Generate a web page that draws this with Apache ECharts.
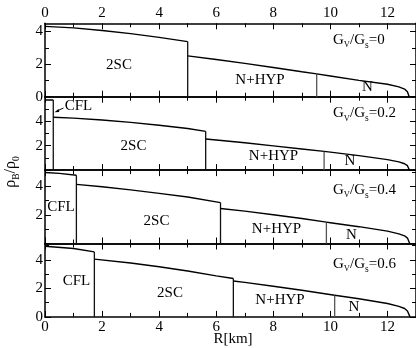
<!DOCTYPE html>
<html><head><meta charset="utf-8">
<script src="https://cdn.jsdelivr.net/npm/echarts@6/dist/echarts.min.js"></script>
<style>html,body{margin:0;padding:0;background:#fff}#c{width:416px;height:348px}</style>
</head><body><div id="c"></div>
<script>
// ---- data ----
const ratios = ['0', '0.2', '0.4', '0.6'];
const yMax = [4.5, 6, 5.15, 5.15];
const xMajorTicks = [0, 2, 4, 6, 8, 10, 12];
const xMinorTicks = [1, 3, 5, 7, 9, 11];
const yMajorTicks = [[0, 2, 4], [0, 2, 4, 6], [0, 2, 4], [0, 2, 4]];
const yMinorTicks = [[1, 3], [1, 3, 5], [1, 3, 5], [1, 3, 5]];
const yLabelTicks = [[0, 2, 4], [2, 4], [2, 4], [0, 2, 4]];

// Gv/Gs = 0
const g0_2SC  = [[0, 4.31], [1, 4.22], [2, 4.06], [3, 3.87], [4, 3.64], [5, 3.38]];
const g0_NHYP = [[5, 2.5], [6, 2.28], [7, 2.04], [8, 1.79], [9, 1.53], [9.52, 1.40]];
const g0_N    = [[9.52, 1.40], [10, 1.27], [11, 1.0], [12, 0.76], [12.4, 0.6], [12.6, 0.47], [12.7, 0.3], [12.76, 0]];
// Gv/Gs = 0.2
const g2_CFL  = [[0, 5.73], [0.29, 5.73]];
const g2_2SC  = [[0.29, 4.32], [1, 4.25], [2, 4.1], [3, 3.9], [4, 3.67], [5, 3.4], [5.63, 3.17]];
const g2_NHYP = [[5.63, 2.54], [6, 2.46], [7, 2.23], [8, 1.98], [9, 1.73], [9.78, 1.53]];
const g2_N    = [[9.78, 1.53], [10, 1.47], [11, 1.18], [12, 0.86], [12.4, 0.67], [12.6, 0.52], [12.7, 0.36], [12.77, 0]];
// Gv/Gs = 0.4
const g4_CFL  = [[0, 4.98], [0.5, 4.92], [1.1, 4.79]];
const g4_2SC  = [[1.1, 4.15], [2, 3.98], [3, 3.76], [4, 3.52], [5, 3.26], [6.15, 2.87]];
const g4_NHYP = [[6.15, 2.46], [7, 2.27], [8, 2.02], [9, 1.75], [9.86, 1.5]];
const g4_N    = [[9.86, 1.5], [10, 1.46], [11, 1.18], [12, 0.87], [12.4, 0.68], [12.6, 0.54], [12.7, 0.38], [12.78, 0]];
// Gv/Gs = 0.6
const g6_CFL  = [[0, 4.96], [1, 4.8], [1.73, 4.56]];
const g6_2SC  = [[1.73, 4.05], [3, 3.78], [4, 3.52], [5, 3.22], [6, 2.88], [6.6, 2.69]];
const g6_NHYP = [[6.6, 2.52], [7, 2.42], [8, 2.15], [9, 1.87], [10.15, 1.52]];
const g6_N    = [[10.15, 1.52], [11, 1.27], [12, 0.94], [12.4, 0.74], [12.6, 0.59], [12.7, 0.42], [12.79, 0]];

const panels = [
  {phases: [g0_2SC, g0_NHYP, g0_N], names: ['2SC', 'N+HYP', 'N']},
  {phases: [g2_CFL, g2_2SC, g2_NHYP, g2_N], names: ['CFL', '2SC', 'N+HYP', 'N']},
  {phases: [g4_CFL, g4_2SC, g4_NHYP, g4_N], names: ['CFL', '2SC', 'N+HYP', 'N']},
  {phases: [g6_CFL, g6_2SC, g6_NHYP, g6_N], names: ['CFL', '2SC', 'N+HYP', 'N']}
];

// ---- layout ----
const FONT = '"Liberation Serif", "DejaVu Serif", serif';
const L = 45, W = 375.7, T0 = 23.3, H = 73.4;
const lab = {color: '#000', fontFamily: FONT, fontSize: 15};
const axisLineStyle = {color: '#000', width: 1.5};

const grid = [], xAxis = [], yAxis = [], series = [];

function xAx(i, pos, vals, len, showLine, labelVals) {
  return {
    type: 'value', gridIndex: i, position: pos, min: 0, max: 13,
    axisLine: {show: showLine, onZero: false, lineStyle: axisLineStyle},
    axisTick: {show: true, inside: true, length: len, customValues: vals, lineStyle: {color: '#000', width: 1}},
    axisLabel: labelVals ? Object.assign({show: true, customValues: labelVals, margin: 3}, lab) : {show: false},
    splitLine: {show: false}
  };
}
function yAx(i, pos, vals, len, showLine, labelVals) {
  return {
    type: 'value', gridIndex: i, position: pos, min: 0, max: yMax[i],
    axisLine: {show: showLine, onZero: false, lineStyle: axisLineStyle},
    axisTick: {show: true, inside: true, length: len, customValues: vals, lineStyle: {color: '#000', width: 1}},
    axisLabel: labelVals ? Object.assign({show: true, customValues: labelVals, margin: 2}, lab) : {show: false},
    splitLine: {show: false}
  };
}

for (let i = 0; i < 4; i++) {
  grid.push({left: L, top: T0 + i * H, width: W, height: H});
  xAxis.push(xAx(i, 'bottom', xMajorTicks, 6, true, i === 3 ? xMajorTicks : null));
  xAxis.push(xAx(i, 'bottom', xMinorTicks, 4, false, null));
  xAxis.push(xAx(i, 'top', xMajorTicks, 6, true, i === 0 ? xMajorTicks : null));
  xAxis.push(xAx(i, 'top', xMinorTicks, 4, false, null));
  yAxis.push(yAx(i, 'left', yMajorTicks[i], 6, true, yLabelTicks[i]));
  yAxis.push(yAx(i, 'left', yMinorTicks[i], 4, false, null));
  yAxis.push(yAx(i, 'right', yMajorTicks[i], 6, true, null));
  yAxis.push(yAx(i, 'right', yMinorTicks[i], 4, false, null));

  const p = panels[i];
  p.phases.forEach((pts, k) => {
    series.push({
      type: 'line', xAxisIndex: 4 * i, yAxisIndex: 4 * i, data: pts,
      showSymbol: false, symbol: 'none', silent: true, animation: false,
      lineStyle: {color: '#000', width: 1.4}
    });
    if (k < p.phases.length - 1) {
      const last = pts[pts.length - 1];
      const isN = p.names[k] === 'N+HYP';
      series.push({
        type: 'line', xAxisIndex: 4 * i, yAxisIndex: 4 * i,
        data: [[last[0], last[1]], [last[0], 0]],
        showSymbol: false, symbol: 'none', silent: true, animation: false,
        lineStyle: {color: isN ? '#555' : '#111', width: 1.3}
      });
    }
  });
}

// ---- annotations ----
const ctx = document.createElement('canvas').getContext('2d');
function measure(t, size) { ctx.font = size + 'px ' + FONT; return ctx.measureText(t).width; }
function seq(list) { // [text,size,dy]
  let x = 0; const out = [];
  list.forEach(([t, s, dy]) => {
    out.push({type: 'text', x: x, y: dy, style: {text: t, font: s + 'px ' + FONT, fill: '#000', align: 'left', verticalAlign: 'middle'}});
    x += measure(t, s);
  });
  return {children: out, width: x};
}
const graphic = [];
function txt(t, x, y) {
  graphic.push({type: 'text', x: x, y: y, silent: true,
    style: {text: t, font: '15px ' + FONT, fill: '#000', align: 'center', verticalAlign: 'middle'}});
}
const gY = [40, 113.5, 190, 264];
ratios.forEach((r, i) => {
  const s = seq([['G', 15, 0], ['V', 8.5, 5], ['/G', 15, 0], ['s', 9.5, 5], ['=' + r, 15, 0]]);
  graphic.push({type: 'group', x: 333, y: gY[i], silent: true, children: s.children});
});
// phase labels
txt('2SC', 119, 65); txt('N+HYP', 260, 80); txt('N', 367.5, 87.5);
txt('CFL', 78.5, 106.5); txt('2SC', 133.5, 146.5); txt('N+HYP', 273.5, 156.5); txt('N', 350, 161.5);
txt('CFL', 61, 207.5); txt('2SC', 156.5, 221.5); txt('N+HYP', 276.5, 229); txt('N', 351.5, 235);
txt('CFL', 76.5, 281.5); txt('2SC', 170, 293); txt('N+HYP', 280, 300); txt('N', 354, 307);
txt('R[km]', 233, 339.5);
// arrow to CFL in panel 2
graphic.push({type: 'line', silent: true, shape: {x1: 63.5, y1: 108, x2: 57, y2: 111}, style: {stroke: '#000', lineWidth: 1}});
graphic.push({type: 'polygon', silent: true, shape: {points: [[54.5, 112.3], [58.5, 109], [59.3, 112]]}, style: {fill: '#000'}});
// y-axis title
const ys = seq([['ρ', 16, 0], ['B', 9.5, 5], ['/ρ', 16, 0], ['0', 9.5, 5]]);
graphic.push({type: 'group', x: 11, y: 172 + ys.width / 2, rotation: Math.PI / 2, silent: true, children: ys.children});

const chart = echarts.init(document.getElementById('c'), null, {renderer: 'canvas'});
chart.setOption({
  animation: false,
  backgroundColor: '#fff',
  grid: grid, xAxis: xAxis, yAxis: yAxis, series: series, graphic: graphic
});
</script>
</body></html>
